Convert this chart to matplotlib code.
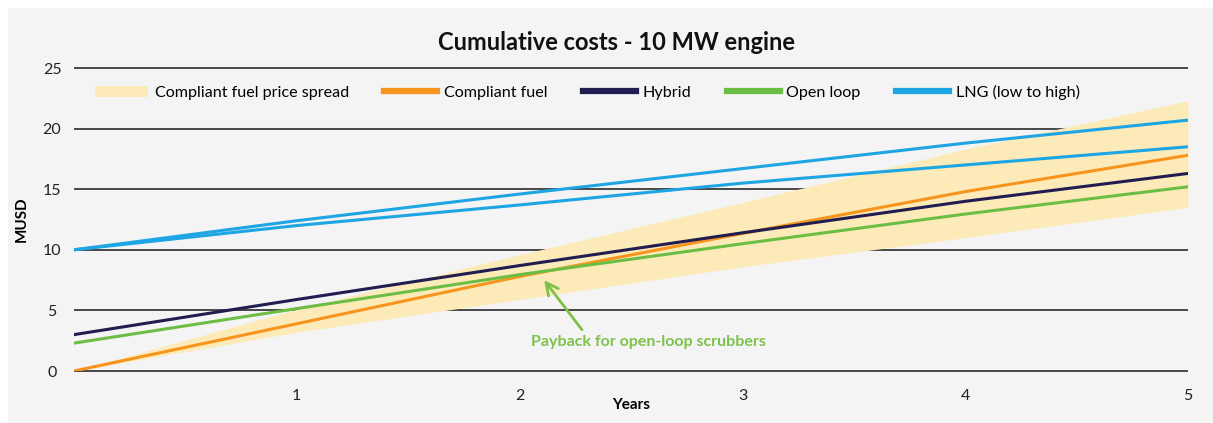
import matplotlib
matplotlib.use("Agg")
import matplotlib.pyplot as plt
from matplotlib.patches import Rectangle

plt.rcParams['font.family'] = ['Lato', 'DejaVu Sans']

years = [0, 1, 2, 3, 4, 5]
year_ticks = [1, 2, 3, 4, 5]
y_ticks = [0, 5, 10, 15, 20, 25]

compliant_fuel = [0.0, 3.9, 7.8, 11.35, 14.8, 17.8]
hybrid = [3.0, 5.9, 8.7, 11.4, 14.0, 16.3]
open_loop = [2.3, 5.15, 7.95, 10.5, 12.95, 15.2]
lng_high = [10.0, 12.4, 14.6, 16.7, 18.8, 20.7]
lng_low = [10.0, 12.0, 13.7, 15.5, 17.0, 18.5]
spread_low = [0.0, 3.2, 5.9, 8.6, 11.0, 13.5]
spread_high = [0.0, 5.1, 9.6, 13.9, 18.3, 22.3]

payback_point = (2.11, 7.5)
payback_text_tail = (2.28, 3.4)

C_SPREAD = '#fcebb8'
C_ORANGE = '#f7941d'
C_NAVY = '#221d50'
C_GREEN = '#6cbd45'
C_BLUE = '#1ea5e4'
C_TEXT_GREEN = '#7cc24a'

fig = plt.figure(figsize=(12.13, 4.23), dpi=100)
fig.patch.set_facecolor('white')
fig.patches.append(Rectangle((8 / 1213, 0), 1 - 8 / 1213, 1 - 8 / 423,
                             transform=fig.transFigure, facecolor='#f4f4f4',
                             edgecolor='none', zorder=-10))

ax = fig.add_axes([74 / 1213, 1 - 371 / 423, (1188 - 74) / 1213, (371 - 68) / 423])
ax.set_facecolor('none')
ax.set_xlim(0, 5)
ax.set_ylim(0, 25)
for s in ax.spines.values():
    s.set_visible(False)

ax.hlines(y_ticks, 0, 5, colors='#3a3a3a', linewidth=1.3, zorder=1, clip_on=False)

ax.fill_between(years, spread_low, spread_high, color=C_SPREAD, linewidth=0,
                zorder=2, label='Compliant fuel price spread')
ax.plot(years, compliant_fuel, color=C_ORANGE, lw=2.2, zorder=4, label='Compliant fuel')
ax.plot(years, hybrid, color=C_NAVY, lw=2.2, zorder=4, label='Hybrid')
ax.plot(years, open_loop, color=C_GREEN, lw=2.2, zorder=4, label='Open loop')
ax.plot(years, lng_high, color=C_BLUE, lw=2.2, zorder=4, label='LNG (low to high)')
ax.plot(years, lng_low, color=C_BLUE, lw=2.2, zorder=4)

ax.set_xticks(year_ticks)
ax.set_xticklabels([str(t) for t in year_ticks])
ax.set_yticks(y_ticks)
ax.set_yticklabels([str(t) for t in y_ticks])
ax.tick_params(axis='both', length=0, labelsize=11.5, colors='#222222')
ax.tick_params(axis='x', pad=13)
ax.tick_params(axis='y', pad=15.8)
for lab in ax.get_yticklabels():
    lab.set_horizontalalignment('center')

ax.set_xlabel('Years', fontsize=11, fontweight='bold', labelpad=-4)
ax.set_ylabel('MUSD', fontsize=11, fontweight='bold', labelpad=10)

fig.text(617 / 1213, 1 - 42 / 423, 'Cumulative costs - 10 MW engine',
         ha='center', va='center', fontsize=17, fontweight='bold', color='#111111')

leg = ax.legend(loc='upper left', bbox_to_anchor=(0.013, 0.965), ncol=5, frameon=False,
                fontsize=11.6, handlelength=3.3, handletextpad=0.4,
                columnspacing=2.2, handleheight=0.7, borderaxespad=0)
for line in leg.get_lines():
    line.set_linewidth(4.5)

ax.annotate('', xy=payback_point, xytext=payback_text_tail,
            arrowprops=dict(arrowstyle='->', color=C_TEXT_GREEN, lw=2,
                            mutation_scale=22, shrinkA=0, shrinkB=0), zorder=6)
ax.text(2.58, 2.4, 'Payback for open-loop scrubbers', color=C_TEXT_GREEN,
        fontsize=11.5, fontweight='bold', ha='center', va='center', zorder=6)

fig.savefig('out.png', dpi=100, facecolor=fig.get_facecolor())
